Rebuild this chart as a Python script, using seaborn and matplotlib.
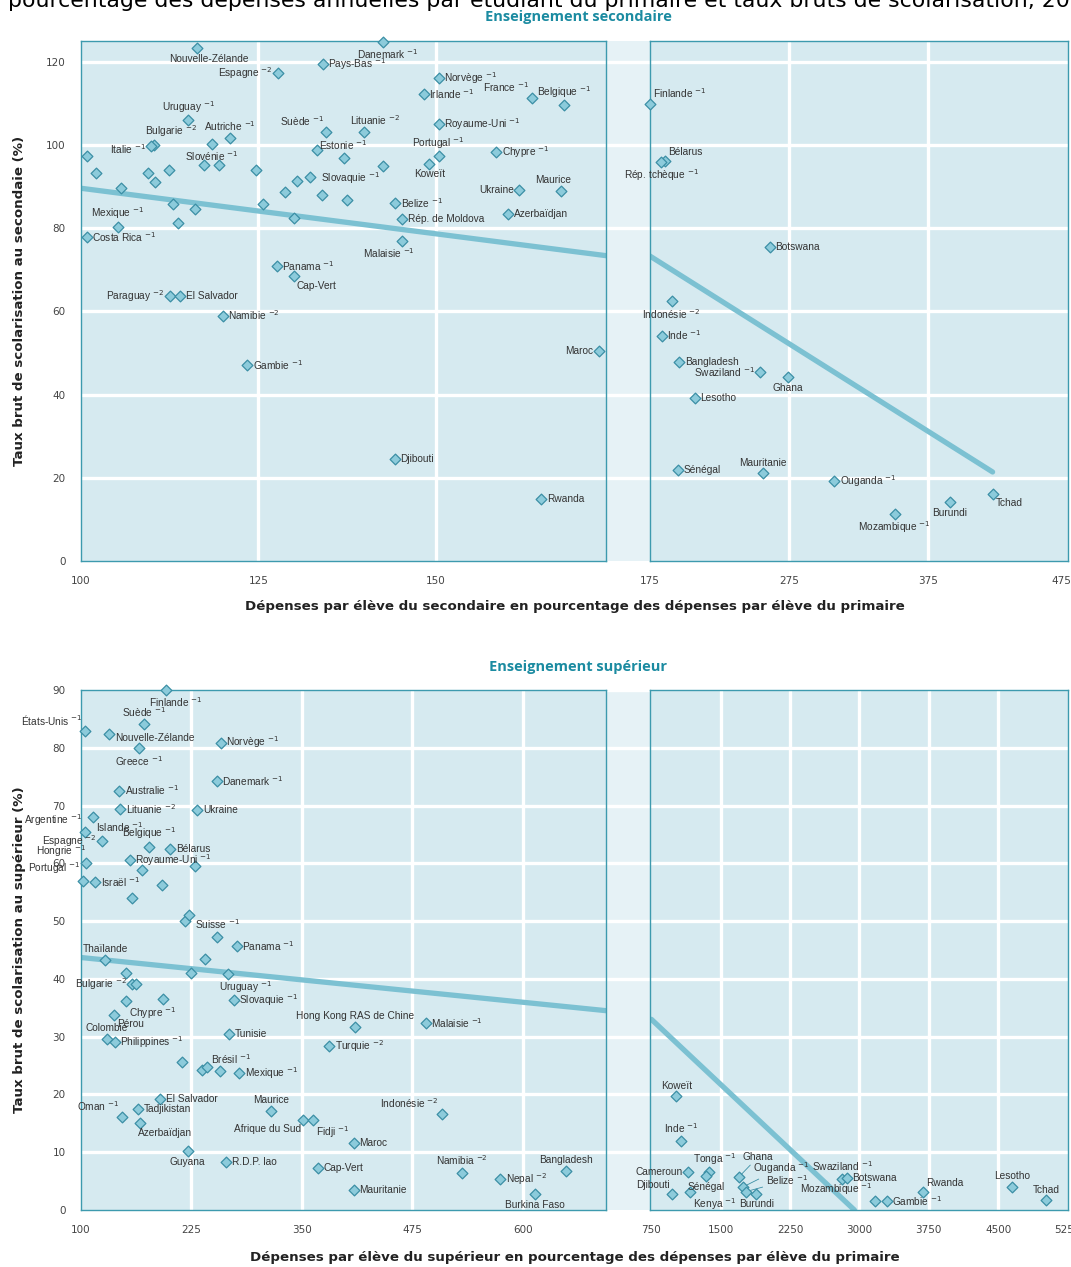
import numpy as np
import pandas as pd
import matplotlib
matplotlib.use("Agg")
import matplotlib.pyplot as plt
import matplotlib.transforms as mtrans
import seaborn as sns

sns.set_style("white")
plt.rcParams['font.family'] = ['DejaVu Sans']
plt.rcParams['mathtext.fontset'] = 'dejavusans'

# ---------------- data: secondary, left part (100-175) ----------------
sec_l_name = ['Nouvelle-Zélande', 'Danemark', 'Pays-Bas', 'Espagne', 'Norvège', 'Irlande', 'France',
              'Belgique', 'Uruguay', 'Suède', 'Lituanie', 'Royaume-Uni', 'Autriche', 'Bulgarie', 'Italie',
              'Slovénie', '', '', '', '', '', '', '', '', '', '', '', '', '', '', '', '', '', '',
              'Estonie', '', '', 'Slovaquie', 'Portugal', 'Koweït', 'Chypre', 'Ukraine', 'Maurice',
              'Azerbaïdjan', 'Belize', 'Rép. de Moldova', 'Malaisie', 'Mexique', 'Costa Rica', 'Panama',
              'Cap-Vert', 'Paraguay', 'El Salvador', 'Namibie', 'Gambie', 'Djibouti', 'Rwanda', 'Maroc']
sec_l_note = ['', '-1', '-1', '-2', '-1', '-1', '-1', '-1', '-1', '-1', '-2', '-1', '-1', '-2', '-1',
              '-1', '', '', '', '', '', '', '', '', '', '', '', '', '', '', '', '', '', '',
              '-1', '', '', '-1', '-1', '', '-1', '', '', '', '-1', '', '-1', '-1', '-1', '-1',
              '', '-2', '', '-2', '-1', '', '', '']
sec_l_x = [116.4, 142.5, 134.1, 127.8, 150.4, 148.3, 163.5, 168.1, 115.1, 134.6, 139.9, 150.4, 121.0,
           110.3, 109.9, 118.4, 100.9, 102.1, 105.7, 109.5, 110.4, 112.4, 117.3, 119.4, 124.6, 112.9,
           113.7, 116.1, 125.6, 128.7, 130.5, 132.3, 130.0, 133.2, 137.0, 134.0, 137.5, 142.5, 150.4,
           149.1, 158.5, 161.8, 167.7, 160.2, 144.3, 145.3, 145.3, 105.2, 100.8, 127.6, 130.0, 112.5,
           114.0, 120.0, 123.4, 144.2, 164.9, 173.0]
sec_l_y = [123.2, 124.8, 119.4, 117.2, 116.2, 112.2, 111.2, 109.5, 105.9, 103.1, 103.1, 105.1, 101.6,
           100.0, 99.7, 100.3, 97.3, 93.3, 89.6, 93.2, 91.2, 94.0, 95.3, 95.3, 94.0, 85.9, 81.3, 84.5,
           85.9, 88.8, 91.4, 92.4, 82.4, 98.7, 96.9, 87.9, 86.7, 94.9, 97.3, 95.5, 98.4, 89.3, 89.0,
           83.5, 86.0, 82.3, 77.0, 80.3, 77.9, 70.9, 68.4, 63.7, 63.7, 59.0, 47.1, 24.6, 14.9, 50.4]

# secondary, right part (175-475)
sec_r_name = ['Finlande', 'Bélarus', 'Rép. tchèque', 'Botswana', 'Indonésie', 'Inde', 'Bangladesh',
              'Swaziland', 'Ghana', 'Lesotho', 'Sénégal', 'Mauritanie', 'Ouganda', 'Tchad', 'Burundi',
              'Mozambique']
sec_r_note = ['-1', '', '-1', '', '-2', '-1', '', '-1', '', '', '', '', '-1', '', '', '-1']
sec_r_x = [175.0, 186.0, 182.9, 261.1, 190.6, 183.4, 196.1, 254.2, 274.5, 207.3, 195.3, 256.1, 307.8,
           421.7, 391.1, 351.1]
sec_r_y = [109.9, 96.2, 95.9, 75.6, 62.4, 54.2, 47.9, 45.5, 44.2, 39.3, 21.9, 21.1, 19.2, 16.1, 14.1, 11.3]

# tertiary, left part (100-700)
ter_l_name = ['Finlande', 'Suède', 'États-Unis', 'Nouvelle-Zélande', 'Greece', 'Norvège', 'Danemark',
              'Australie', 'Lituanie', 'Ukraine', 'Islande', 'Argentine', 'Espagne', 'Belgique', 'Bélarus',
              'Hongrie', 'Royaume-Uni', '', '', 'Portugal', 'Israël', '', '', '', '', 'Suisse', 'Panama',
              'Thaïlande', '', 'Bulgarie', '', '', '', 'Uruguay', '', 'Chypre', 'Slovaquie', 'Pérou',
              'Colombie', 'Philippines', 'Tunisie', '', '', '', 'Brésil', 'Mexique', 'El Salvador',
              'Maurice', 'Oman', 'Tadjikistan', 'Azerbaïdjan', 'Afrique du Sud', 'Fidji', 'Guyana',
              'R.D.P. lao', 'Cap-Vert', 'Hong Kong RAS de Chine', 'Malaisie', 'Turquie', 'Indonésie',
              'Maroc', 'Namibia', 'Nepal', 'Bangladesh', 'Mauritanie', 'Burkina Faso']
ter_l_note = ['-1', '-1', '-1', '', '-1', '-1', '-1', '-1', '-2', '', '-1', '-1', '-2', '-1', '',
              '-1', '-1', '', '', '-1', '-1', '', '', '', '', '-1', '-1', '', '', '-2', '', '', '', '-1',
              '', '-1', '-1', '', '', '-1', '', '', '', '', '-1', '-1', '', '', '-1', '', '', '', '-1',
              '', '', '', '', '-1', '-2', '-2', '', '-2', '-2', '', '', '']
ter_l_x = [196.3, 171.2, 104.6, 132.0, 165.8, 258.3, 253.7, 143.0, 144.5, 231.7, 114.1, 104.6, 123.6,
           177.2, 201.2, 105.7, 155.2, 229.0, 168.9, 102.7, 116.0, 192.1, 157.8, 217.2, 222.5, 254.1,
           276.2, 127.5, 150.9, 157.7, 162.3, 224.5, 240.0, 266.8, 193.2, 151.3, 272.8, 137.7, 129.1,
           138.1, 267.2, 214.3, 237.0, 242.3, 257.0, 279.2, 189.8, 315.1, 146.0, 164.5, 166.4, 351.7,
           362.5, 220.8, 264.2, 368.5, 410.0, 490.1, 381.0, 508.2, 408.5, 530.9, 574.3, 648.7, 408.5,
           613.2]
ter_l_y = [90.0, 84.1, 82.9, 82.4, 79.9, 80.9, 74.3, 72.6, 69.4, 69.3, 68.1, 65.4, 63.9, 62.9, 62.5,
           60.0, 60.5, 59.6, 58.9, 57.0, 56.8, 56.3, 54.0, 50.1, 51.0, 47.3, 45.7, 43.3, 41.0, 39.1,
           39.2, 41.0, 43.5, 40.9, 36.6, 36.2, 36.4, 33.7, 29.6, 29.0, 30.5, 25.6, 24.3, 24.8, 24.0,
           23.7, 19.2, 17.2, 16.1, 17.5, 15.1, 15.6, 15.6, 10.2, 8.3, 7.2, 31.7, 32.3, 28.3, 16.6, 11.6,
           6.4, 5.3, 6.8, 3.5, 2.7]

# tertiary, right part (750-5250)
ter_r_name = ['Koweït', 'Inde', 'Cameroun', 'Tonga', 'Sénégal', 'Djibouti', 'Kenya', 'Ghana', 'Ouganda',
              'Belize', 'Burundi', 'Swaziland', 'Botswana', 'Mozambique', 'Gambie', 'Rwanda', 'Lesotho',
              'Tchad']
ter_r_note = ['', '-1', '', '-1', '', '', '-1', '', '-1', '-1', '', '-1', '', '-1', '-1', '', '', '']
ter_r_x = [1020, 1074, 1147, 1370, 1345, 974, 1172, 1695, 1742, 1778, 1886, 2816, 2860, 3169, 3295,
           3689, 4648, 5015]
ter_r_y = [19.7, 12.0, 6.5, 6.5, 5.8, 2.7, 3.1, 5.7, 4.0, 3.2, 2.8, 5.4, 5.5, 1.6, 1.6, 3.1, 4.0, 1.7]

# trend lines (end points)
sec_trend_l_x, sec_trend_l_y = [100, 174], [89.6, 73.4]
sec_trend_r_x, sec_trend_r_y = [175, 421.7], [73.3, 21.4]
ter_trend_l_x, ter_trend_l_y = [100, 694], [43.7, 34.5]
ter_trend_r_x, ter_trend_r_y = [750, 2945], [33.0, 0.0]

# ---------------- label placement (layout only) ----------------
sec_l_place = [('b', 8, 0), ('b', 4, 0), 'r', 'l', 'r', 'r', 'tl', 't', 't', 'tl', ('t', 8, 0), 'r', 't',
               ('t', 12, 0), ('l', 0, -2), 'b'] + [None] * 18 + \
              ['t', None, None, 'bl', 't', 'b', 'r', 'l', ('t', -6, 0), 'r', 'r', 'r', ('b', -10, 0),
               't', 'r', 'r', 'br', 'l', 'r', 'r', 'r', 'r', 'r', 'l']
sec_r_place = ['tr', 'tr', 'b', 'r', 'b', 'r', 'r', 'l', 'b', 'r', 'r', 't', 'r', 'br', 'b', 'b']
ter_l_place = [('b', 7, 0), 't', 'tl', ('r', 0, -3), 'b', 'r', 'r', 'r', 'r', 'r', 'br', 'tl', 'l', 't',
               'r', ('tl', 2, 0), 'r', None, None, 'tl', 'r', None, None, None, None, 't', 'r',
               't', None, 'l', None, None, None, ('b', 12, 0), None, 'br', 'r', 'br', 't', 'r', 'r',
               None, None, None, ('t', 8, 0), 'r', 'r', 't', 'tl', 'r', ('b', 18, 0), 'bl', 'br', 'b',
               'r', 'r', 't', 'r', 'r', 'tl', 'r', 't', 'r', 't', 'r', 'b']
ter_r_place = ['t', 't', 'l', ('t', 4, 0), 'b', 'tl', 'br', ('lead', 3, 11), ('lead', 7, 8),
               ('lead', 14, 3), 'b', 't', 'r', 'tl', 'r', 'tr', 't', 't']

# ---------------- style ----------------
FILL = '#8ccbdb'
EDGE = '#3b8fa5'
LINE = '#7cc1d2'
PANEL = '#d6eaf0'
GAP = '#e6f2f6'
SPINE = '#3d9aae'
TICK = '#95d0de'
TEAL = '#1b8ba1'
TXT = '#333333'
LABEL_FONT = ['Liberation Sans Narrow', 'Liberation Sans', 'DejaVu Sans']

POS = {'r': (4, 0, 'left', 'center'), 'l': (-4, 0, 'right', 'center'),
       't': (0, 4, 'center', 'bottom'), 'b': (0, -4, 'center', 'top'),
       'tr': (2, 3, 'left', 'bottom'), 'tl': (-2, 3, 'right', 'bottom'),
       'br': (2, -3, 'left', 'top'), 'bl': (-2, -3, 'right', 'top')}

W, H = 1071, 1267
fig = plt.figure(figsize=(W / 100, H / 100), dpi=100)


def px_axes(x0, y0, x1, y1):
    return fig.add_axes([x0 / W, 1 - y1 / H, (x1 - x0) / W, (y1 - y0) / H])


def label_points(ax, names, notes, xs, ys, places):
    for name, note, x, y, p in zip(names, notes, xs, ys, places):
        if not name or p is None:
            continue
        text = name + (' $^{' + note + '}$' if note else '')
        kw = dict(textcoords='offset points', fontsize=7.3, color=TXT, family=LABEL_FONT, zorder=6,
                  annotation_clip=False)
        if isinstance(p, tuple) and p[0] == 'lead':
            ax.annotate(text, (x, y), xytext=(p[1], p[2]), ha='left', va='bottom',
                        arrowprops=dict(arrowstyle='-', color=EDGE, lw=0.6, shrinkA=0, shrinkB=3), **kw)
            continue
        if isinstance(p, tuple):
            code, ddx, ddy = p
        else:
            code, ddx, ddy = p, 0, 0
        dx, dy, ha, va = POS[code]
        ax.annotate(text, (x, y), xytext=(dx + ddx, dy + ddy), ha=ha, va=va, **kw)


def part(x0, x1, top, bot, ylim, ygrid, xlim, xticks, xgrid, names, notes, xs, ys, places,
         tx, ty, yticks=None, last_shift=0):
    ax = px_axes(x0, top, x1, bot)
    ax.set_facecolor(PANEL)
    for g in ygrid:
        ax.axhline(g, color='white', lw=2.4, zorder=1)
    for g in xgrid:
        ax.axvline(g, color='white', lw=2.4, zorder=1)
    sns.lineplot(x=tx, y=ty, ax=ax, color=LINE, lw=3.8, zorder=3)
    df = pd.DataFrame({'x': xs, 'y': ys})
    sns.scatterplot(data=df, x='x', y='y', marker='D', s=30, color=FILL, edgecolor=EDGE,
                    linewidth=0.9, ax=ax, zorder=5, clip_on=False, legend=False)
    label_points(ax, names, notes, xs, ys, places)
    ax.set_xlim(xlim)
    ax.set_ylim(ylim)
    ax.set_xticks(xticks)
    ax.set_xticklabels([str(t) for t in xticks])
    ax.set_xlabel('')
    ax.set_ylabel('')
    ax.tick_params(axis='x', length=5, width=3.5, color=TICK, direction='out', pad=6,
                   labelsize=7.5, labelcolor='#444444')
    if last_shift:
        lab = ax.get_xticklabels()[-1]
        lab.set_transform(lab.get_transform() +
                          mtrans.ScaledTranslation(last_shift / 100, 0, fig.dpi_scale_trans))
    if yticks is not None:
        ax.set_yticks(yticks)
        ax.tick_params(axis='y', length=4, width=3.5, color=TICK, direction='out', pad=7,
                       labelsize=7.5, labelcolor='#444444')
    else:
        ax.set_yticks([])
    for s in ax.spines.values():
        s.set_color(SPINE)
        s.set_linewidth(1.0)
        s.set_zorder(4)
    return ax


def panel(top, bot, ylim, yticks, left, right, title, xlabel, ylabel, title_y, xlabel_y, shift):
    bg = px_axes(81, top, 1068, bot)
    bg.set_facecolor(GAP)
    bg.set_ylim(ylim)
    bg.set_xlim(0, 1)
    for g in yticks[1:]:
        bg.axhline(g, color='white', lw=2.4)
    bg.set_xticks([])
    bg.set_yticks([])
    for s in bg.spines.values():
        s.set_visible(False)
    ygrid = [v for v in yticks if 0 < v < ylim[1]]
    part(81, 606, top, bot, ylim, ygrid, *left, yticks=yticks)
    part(650, 1068, top, bot, ylim, ygrid, *right, last_shift=shift)
    fig.text(578 / W, 1 - title_y / H, title, ha='center', va='center', color=TEAL,
             fontsize=10.5, fontweight='bold', family=['Open Sans', 'DejaVu Sans'])
    fig.text(575 / W, 1 - xlabel_y / H, xlabel, ha='center', va='center', color='#222222',
             fontsize=9.6, fontweight='bold')
    fig.text(20 / W, 1 - (top + bot) / 2 / H, ylabel, ha='center', va='center', rotation=90,
             color='#222222', fontsize=9.6, fontweight='bold')


# cut-off heading at the very top of the page
fig.text(8 / W, 1 - 7 / H,
         'pourcentage des dépenses annuelles par étudiant du primaire et taux bruts de scolarisation, 2004',
         ha='left', va='baseline', fontsize=15.8, color='black')

panel(41, 561, (0, 125), [0, 20, 40, 60, 80, 100, 120],
      ((100, 174), [100, 125, 150], [125, 150], sec_l_name, sec_l_note, sec_l_x, sec_l_y, sec_l_place,
       sec_trend_l_x, sec_trend_l_y),
      ((175, 476), [175, 275, 375, 475], [275, 375], sec_r_name, sec_r_note, sec_r_x, sec_r_y,
       sec_r_place, sec_trend_r_x, sec_trend_r_y),
      'Enseignement secondaire',
      'Dépenses par élève du secondaire en pourcentage des dépenses par élève du primaire',
      'Taux brut de scolarisation au secondaie (%)', 17, 607, -5)

panel(690, 1210, (0, 90), [0, 10, 20, 30, 40, 50, 60, 70, 80, 90],
      ((100, 694), [100, 225, 350, 475, 600], [225, 350, 475, 600], ter_l_name, ter_l_note, ter_l_x,
       ter_l_y, ter_l_place, ter_trend_l_x, ter_trend_l_y),
      ((735, 5255), [750, 1500, 2250, 3000, 3750, 4500, 5250], [1500, 2250, 3000, 3750, 4500],
       ter_r_name, ter_r_note, ter_r_x, ter_r_y, ter_r_place, ter_trend_r_x, ter_trend_r_y),
      'Enseignement supérieur',
      'Dépenses par élève du supérieur en pourcentage des dépenses par élève du primaire',
      'Taux brut de scolarisation au supérieur (%)', 667, 1258, 0)

fig.savefig('out.png', dpi=100)
